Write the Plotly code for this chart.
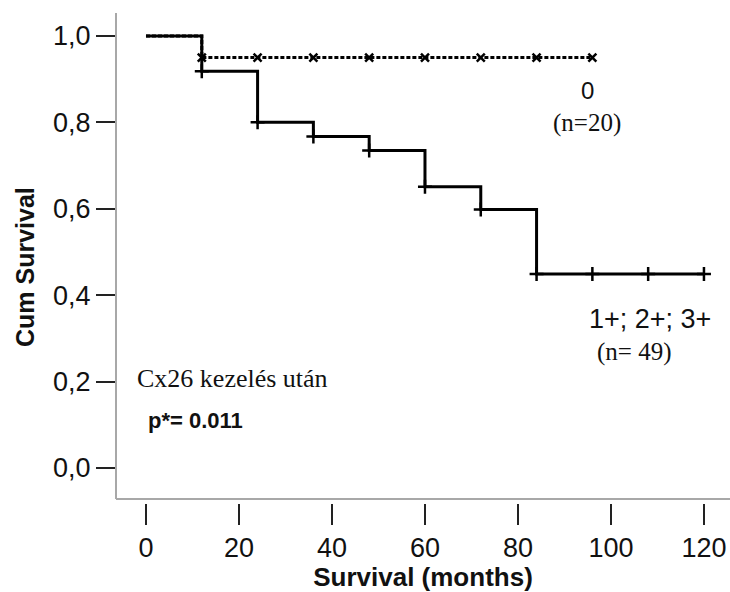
import plotly.graph_objects as go

# Group "0" (n=20)
g0_time = [0, 12, 96]
g0_surv = [1.0, 0.95, 0.95]
g0_cens_time = [12, 24, 36, 48, 60, 72, 84, 96]
g0_cens_surv = [0.95, 0.95, 0.95, 0.95, 0.95, 0.95, 0.95, 0.95]

# Group "1+; 2+; 3+" (n=49)
g1_time = [0, 12, 24, 36, 48, 60, 72, 84, 120]
g1_surv = [1.0, 0.918, 0.80, 0.767, 0.735, 0.651, 0.598, 0.449, 0.449]
g1_cens_time = [12, 24, 36, 48, 60, 72, 84, 96, 108, 120]
g1_cens_surv = [0.918, 0.80, 0.767, 0.735, 0.651, 0.598, 0.449, 0.449, 0.449, 0.449]

x_ticks = [0, 20, 40, 60, 80, 100, 120]
y_ticks = [0.0, 0.2, 0.4, 0.6, 0.8, 1.0]
y_ticktext = ["0,0", "0,2", "0,4", "0,6", "0,8", "1,0"]

SANS = "Liberation Sans, Arial, sans-serif"
SERIF = "Liberation Serif, Times New Roman, serif"

W, H = 730, 592
L, R, T, B = 116, 0, 13, 89
PW, PH = W - L - R, H - T - B

fig = go.Figure()

fig.add_trace(go.Scatter(x=g1_time, y=g1_surv, mode="lines",
                         line=dict(color="black", width=3, shape="hv"), showlegend=False))
fig.add_trace(go.Scatter(x=g1_cens_time, y=g1_cens_surv, mode="markers",
                         marker=dict(symbol="cross-thin", size=10, line=dict(color="black", width=2.5)),
                         showlegend=False))
fig.add_trace(go.Scatter(x=g0_time, y=g0_surv, mode="lines",
                         line=dict(color="black", width=3, shape="hv", dash="4px,2px"), showlegend=False))
fig.add_trace(go.Scatter(x=g0_cens_time, y=g0_cens_surv, mode="markers",
                         marker=dict(symbol="x-thin", size=8, line=dict(color="black", width=2.5)),
                         showlegend=False))

fig.update_layout(
    width=W, height=H,
    margin=dict(l=L, r=R, t=T, b=B),
    plot_bgcolor="white", paper_bgcolor="white",
    xaxis=dict(range=[-6.45, 125.6], tickvals=x_ticks, ticks="outside", ticklen=21, tickwidth=2,
               tickcolor="#222", showgrid=False, zeroline=False, showline=False,
               tickfont=dict(family=SANS, size=27, color="#111"),
               title=dict(text="<b>Survival (months)</b>", font=dict(family=SANS, size=26, color="#111"),
                          standoff=7)),
    yaxis=dict(range=[-0.081, 1.053], tickvals=y_ticks, ticktext=y_ticktext, ticks="outside", ticklen=19,
               tickwidth=2, tickcolor="#222", showgrid=False, zeroline=False, showline=False,
               tickfont=dict(family=SANS, size=27, color="#111")),
)

# L-shaped grey frame
yb = (503 - 499) / PH
fig.add_shape(type="line", xref="paper", yref="paper", x0=0, x1=0, y0=yb, y1=1,
              line=dict(color="#a8a8a8", width=2))
fig.add_shape(type="line", xref="paper", yref="paper", x0=0, x1=1, y0=yb, y1=yb,
              line=dict(color="#a8a8a8", width=2))


def px(xp, yp):
    return (xp - L) / PW, (H - B - yp) / PH


def add_text(xp, yp, text, font, xanchor="center", angle=0):
    x, y = px(xp, yp)
    fig.add_annotation(x=x, y=y, xref="paper", yref="paper", text=text, font=font,
                       showarrow=False, xanchor=xanchor, yanchor="middle", textangle=angle)


add_text(25, 267, "<b>Cum Survival</b>", dict(family=SANS, size=25, color="#111"), angle=-90)
add_text(587, 90, "0", dict(family=SANS, size=24, color="#111"))
add_text(587, 123, "(n=20)", dict(family=SERIF, size=25, color="#111"))
add_text(650, 319, "1+; 2+; 3+", dict(family=SANS, size=27, color="#111"))
add_text(634, 352, "(n= 49)", dict(family=SERIF, size=25, color="#111"))
add_text(135, 378, "Cx26 kezelés után", dict(family=SERIF, size=26, color="#111"), xanchor="left")
add_text(146, 420, "<b>p*= 0.011</b>", dict(family=SANS, size=22, color="#111"), xanchor="left")

fig.write_html("out.html")
